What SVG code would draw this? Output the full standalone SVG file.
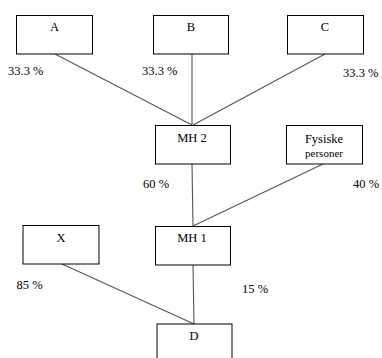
<svg xmlns="http://www.w3.org/2000/svg" width="382" height="358" viewBox="0 0 382 358">
<style>
.box{fill:#fff;stroke:#000;stroke-width:1}
.t{font-family:'Liberation Serif','Times New Roman','DejaVu Serif',serif;font-size:12.5px;fill:#000}
.c{text-anchor:middle}
.ln{stroke:#555;stroke-width:1.1;fill:none}
</style>
<rect width="382" height="358" fill="#fff"/>
<g id="connectors">
<line class="ln" x1="55" y1="54" x2="192" y2="125"/>
<line class="ln" x1="192" y1="54" x2="192" y2="125"/>
<line class="ln" x1="325" y1="54" x2="193" y2="125"/>
<line class="ln" x1="192" y1="164" x2="193" y2="226"/>
<line class="ln" x1="323" y1="164" x2="193" y2="226"/>
<line class="ln" x1="62" y1="264" x2="194" y2="324"/>
<line class="ln" x1="193" y1="265" x2="194" y2="324"/>
</g>
<g id="A"><rect class="box" x="16.5" y="15.5" width="76" height="38.5"/><text class="t c" x="54.5" y="31" font-family="Liberation Serif, serif">A</text></g>
<g id="B"><rect class="box" x="153.5" y="15.5" width="75" height="38.5"/><text class="t c" x="191" y="31" font-family="Liberation Serif, serif">B</text></g>
<g id="C"><rect class="box" x="287.5" y="15.5" width="76" height="38.5"/><text class="t c" x="325" y="31" font-family="Liberation Serif, serif">C</text></g>
<g id="MH2"><rect class="box" x="155.5" y="125.5" width="75" height="38.5"/><text class="t c" x="192" y="142" font-family="Liberation Serif, serif">MH 2</text></g>
<g id="Fysiske"><rect class="box" x="286.5" y="125.5" width="76" height="38.5"/><text class="t c" x="324" y="143" font-family="Liberation Serif, serif">Fysiske</text><text class="t c" x="324" y="157" font-family="Liberation Serif, serif" style="font-size:11px">personer</text></g>
<g id="X"><rect class="box" x="23" y="225.5" width="76" height="38.5"/><text class="t c" x="61" y="242" font-family="Liberation Serif, serif">X</text></g>
<g id="MH1"><rect class="box" x="155.5" y="226.5" width="75" height="38.5"/><text class="t c" x="192" y="242" font-family="Liberation Serif, serif">MH 1</text></g>
<g id="D"><rect class="box" x="157" y="324" width="75" height="40"/><text class="t c" x="194" y="340" font-family="Liberation Serif, serif">D</text></g>
<g id="labels" font-family="Liberation Serif, serif">
<text class="t" x="8" y="75">33.3 %</text>
<text class="t" x="142" y="75">33.3 %</text>
<text class="t" x="343" y="77">33.3 %</text>
<text class="t" x="143" y="188">60 %</text>
<text class="t" x="353" y="188">40 %</text>
<text class="t" x="16.5" y="289">85 %</text>
<text class="t" x="242" y="293">15 %</text>
</g>
</svg>
